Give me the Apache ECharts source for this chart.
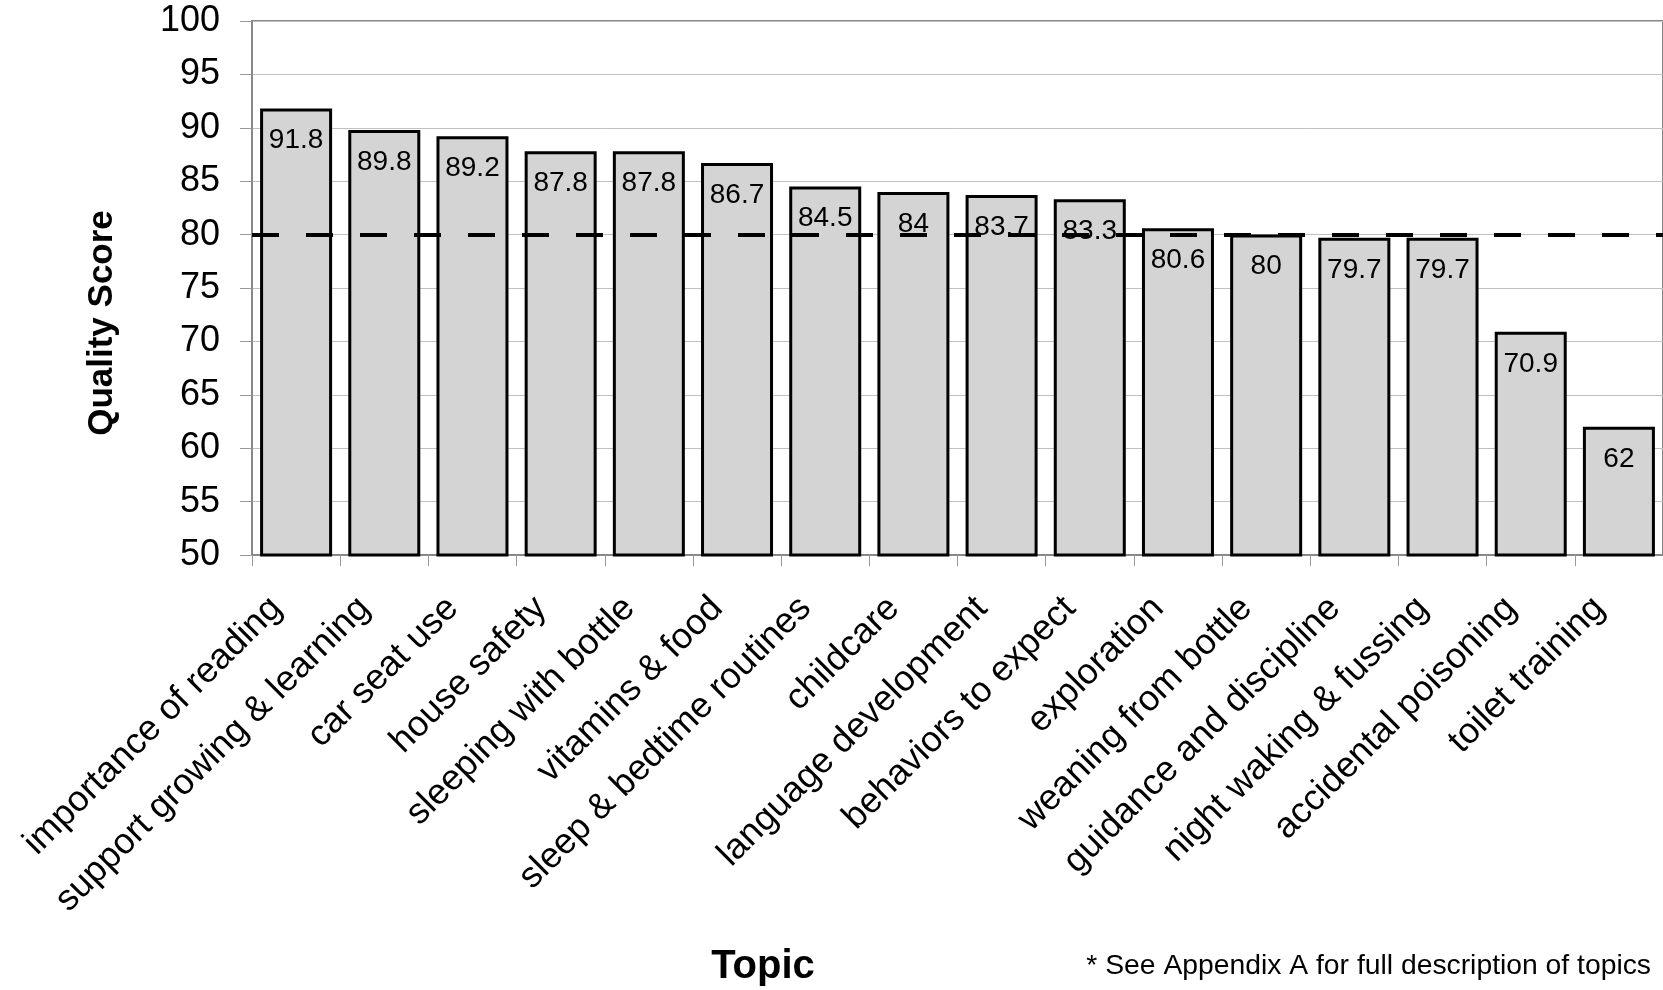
<!DOCTYPE html>
<html>
<head>
<meta charset="utf-8">
<script src="https://cdn.jsdelivr.net/npm/echarts@6/dist/echarts.min.js"></script>
<style>
  html, body { margin: 0; padding: 0; background: #fff; }
  #chart { width: 1663px; height: 990px; }
</style>
</head>
<body>
<div id="chart"></div>
<script>
const categories = [
  'importance of reading', 'support growing & learning', 'car seat use', 'house safety',
  'sleeping with bottle', 'vitamins & food', 'sleep & bedtime routines', 'childcare',
  'language development', 'behaviors to expect', 'exploration', 'weaning from bottle',
  'guidance and discipline', 'night waking & fussing', 'accidental poisoning', 'toilet training'
];
const scores = [91.8, 89.8, 89.2, 87.8, 87.8, 86.7, 84.5, 84, 83.7, 83.3, 80.6, 80, 79.7, 79.7, 70.9, 62];
const targetScore = 80;
const yTicks = { min: 50, max: 100, step: 5 };
const yTitle = 'Quality Score';
const xTitle = 'Topic';
const footnote = '* See Appendix A for full description of topics';

const FONT = '"Liberation Sans", Arial, sans-serif';
const chart = echarts.init(document.getElementById('chart'), null, { renderer: 'canvas' });

chart.setOption({
  animation: false,
  backgroundColor: '#ffffff',
  textStyle: { fontFamily: FONT },
  grid: {
    left: 252, top: 21, right: -2, bottom: 435,
    show: true, borderColor: '#888888', borderWidth: 2, backgroundColor: 'transparent'
  },
  xAxis: {
    type: 'category',
    data: categories,
    boundaryGap: true,
    axisLine: { show: true, lineStyle: { color: '#888888', width: 2 } },
    axisTick: { show: true, length: 11, alignWithLabel: false, lineStyle: { color: '#999999', width: 1 } },
    axisLabel: {
      rotate: 45, interval: 0, fontSize: 36, color: '#000', fontFamily: FONT,
      margin: 28, padding: [0, 28, 0, 0]
    },
    splitLine: { show: false }
  },
  yAxis: {
    type: 'value',
    min: yTicks.min, max: yTicks.max, interval: yTicks.step,
    axisLine: { show: true, lineStyle: { color: '#888888', width: 2 } },
    axisTick: { show: true, length: 12, lineStyle: { color: '#999999', width: 1 } },
    axisLabel: { fontSize: 36, color: '#000', fontFamily: FONT, margin: 32 },
    splitLine: { show: true, lineStyle: { color: '#c0c0c0', width: 1 } }
  },
  series: [
    {
      type: 'bar',
      data: scores,
      barWidth: 72,
      z: 2,
      itemStyle: { color: '#d4d4d4', borderColor: '#000', borderWidth: 3 },
      label: {
        show: true, position: 'insideTop', distance: 18,
        fontSize: 28, color: '#000', fontFamily: FONT
      }
    },
    {
      type: 'line',
      data: [],
      z: 10,
      silent: true,
      markLine: {
        silent: true,
        symbol: ['none', 'none'],
        label: { show: false },
        lineStyle: { color: '#000', width: 4, type: [27, 27] },
        data: [{ yAxis: targetScore }]
      }
    }
  ],
  graphic: [
    {
      type: 'text', x: 102, y: 323, rotation: Math.PI / 2,
      style: { text: yTitle, font: 'bold 35px ' + FONT, fill: '#000', textAlign: 'center', textVerticalAlign: 'middle' }
    },
    {
      type: 'text', x: 763, y: 967,
      style: { text: xTitle, font: 'bold 40px ' + FONT, fill: '#000', textAlign: 'center', textVerticalAlign: 'middle' }
    },
    {
      type: 'text', x: 1651, y: 966,
      style: { text: footnote, font: '28.3px ' + FONT, fill: '#000', textAlign: 'right', textVerticalAlign: 'middle' }
    }
  ]
});
</script>
</body>
</html>
